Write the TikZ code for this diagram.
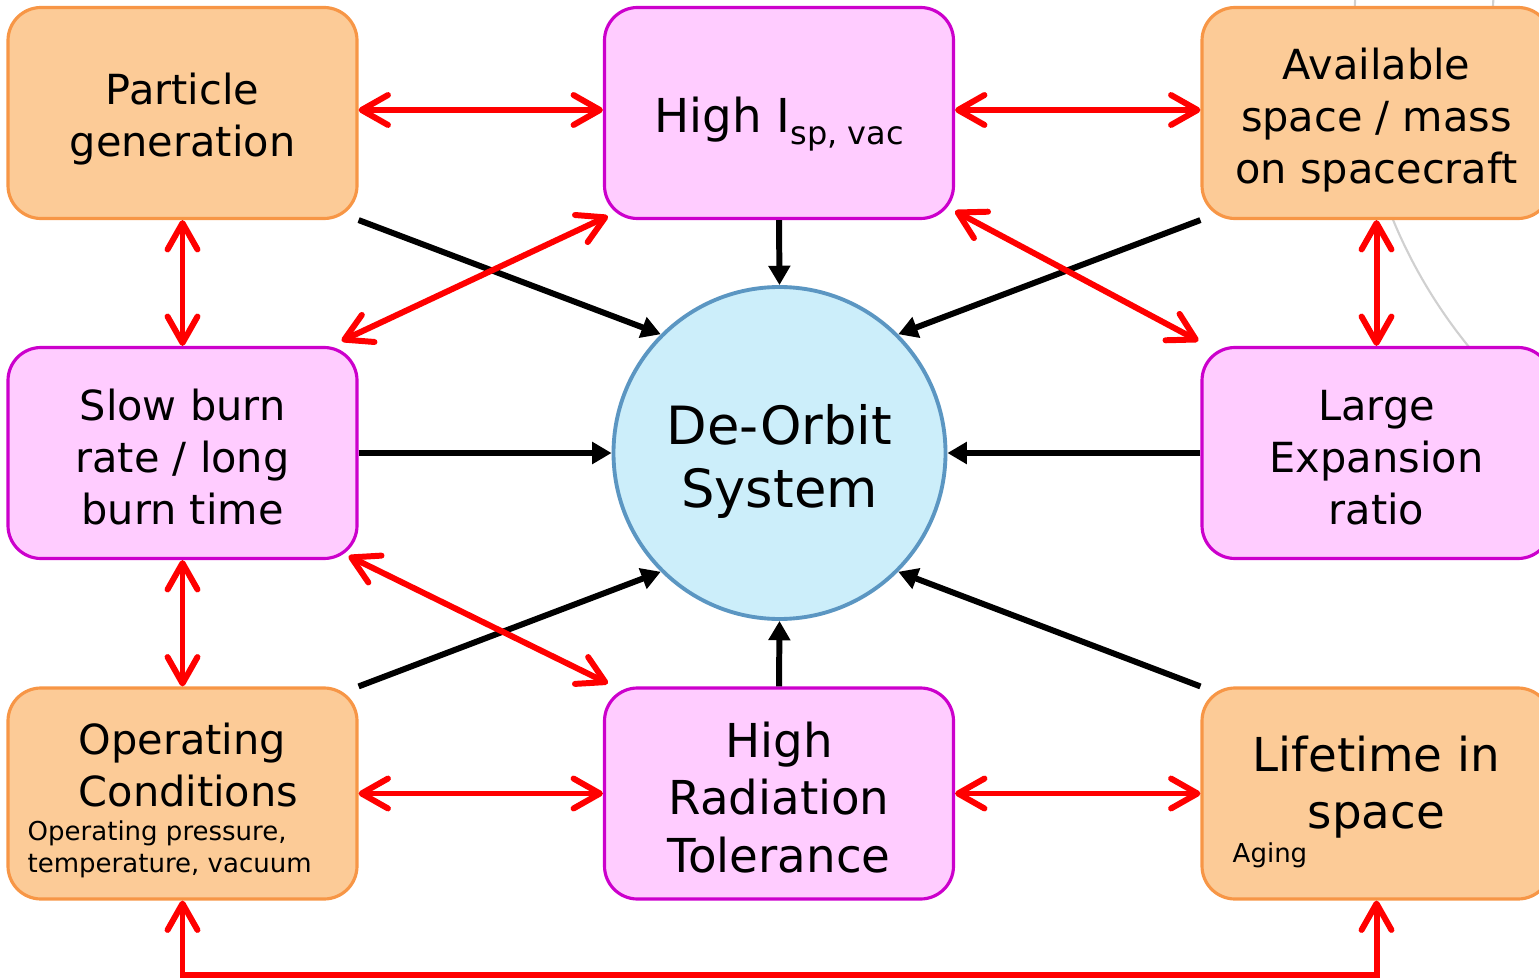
\documentclass[tikz,border=0pt]{standalone}
\usepackage{fontspec}
\setmainfont{DejaVu Sans}
\usetikzlibrary{arrows.meta}

\definecolor{boxorange}{HTML}{FCCB97}
\definecolor{lineorange}{HTML}{F79646}
\definecolor{boxpink}{HTML}{FFCCFF}
\definecolor{linepink}{HTML}{CC00CC}
\definecolor{discblue}{HTML}{CCEEFA}
\definecolor{discline}{HTML}{5B96C2}
\definecolor{arcgrey}{HTML}{D0D0D0}

\newcommand{\droptext}[1]{\rule{0pt}{#1}} % taller first line pushes the text down

\begin{document}
\begin{tikzpicture}[
    orangebox/.style={draw=lineorange, fill=boxorange, line width=0.9pt, rounded corners=0.33cm,
      minimum width=3.49cm, minimum height=2.11cm, inner sep=0pt, align=center},
    pinkbox/.style={orangebox, draw=linepink, fill=boxpink},
    mainfont/.style={font=\fontsize{11.8}{14.8}\selectfont},
    bigfont/.style={font=\fontsize{13.3}{16.4}\selectfont},
    notefont/.style={font=\fontsize{7.4}{9.1}\selectfont},
    redarrow/.style={red, line width=1.7pt, >={Straight Barb[round,length=7.5pt,width=8.5pt]}, <->},
    blackarrow/.style={black, line width=1.7pt, -{Triangle[length=5.5pt,width=6pt]}}
  ]
          \useasboundingbox (0,0) rectangle (15.39,9.78);

          \draw [arcgrey, line width=0.6pt] (18.645,9.53) circle (5.10); % background arc
          \draw [arcgrey, line width=0.6pt] (18.645,9.53) circle (3.72); % background arc

          \node [orangebox, mainfont] (pg) at (1.825,8.65) {\droptext{1.05em}Particle\\generation};
          \node [pinkbox, bigfont] (isp) at (7.79,8.65) {\droptext{1.05em}High I\raisebox{-3.5pt}[0pt][0pt]{\fontsize{9.1}{9.1}\selectfont sp, vac}};
          \node [orangebox, mainfont] (space) at (13.765,8.65) {\droptext{1.1em}Available\\space / mass\\on spacecraft};

          \node [pinkbox, mainfont] (burn) at (1.825,5.25) {\droptext{0.95em}Slow burn\\rate / long\\burn time};
          \node [circle, draw=discline, fill=discblue, line width=1.1pt, minimum size=3.32cm, inner sep=0pt,
            align=center, font=\fontsize{15}{18.2}\selectfont] (deorbit) at (7.795,5.25) {\droptext{1.08em}De-Orbit\\System};
          \node [pinkbox, mainfont] (expansion) at (13.765,5.25) {\droptext{0.95em}Large\\Expansion\\ratio};

          \node [orangebox] (operating) at (1.825,1.845) {};
          \node [pinkbox, bigfont] (radiation) at (7.79,1.845) {\droptext{0.92em}High\\Radiation\\Tolerance};
          \node [orangebox] (lifetime) at (13.765,1.845) {};

          % texts inside the two lower boxes
          \node [mainfont, align=left, anchor=west, inner sep=0pt] (operatingtitle) at (0.78,2.13) {Operating\\Conditions};
          \node [notefont, align=left, anchor=west, inner sep=0pt] (operatingnote) at (0.27,1.285) {Operating pressure,\\temperature, vacuum};
          \node [bigfont, align=center, inner sep=0pt] (lifetimetitle) at (13.765,1.91) {Lifetime in\\space};
          \node [notefont, anchor=west, inner sep=0pt] (lifetimenote) at (12.32,1.225) {Aging};

          % black arrows into the system
          \draw [blackarrow] (isp.south) -- (deorbit.north);
          \draw [blackarrow] (pg.south east) -- (deorbit.135);
          \draw [blackarrow] (space.south west) -- (deorbit.45);
          \draw [blackarrow] (burn.east) -- (deorbit.west);
          \draw [blackarrow] (expansion.west) -- (deorbit.east);
          \draw [blackarrow] (operating.north east) -- (deorbit.225);
          \draw [blackarrow] (lifetime.north west) -- (deorbit.315);
          \draw [blackarrow] (radiation.north) -- (deorbit.south);

          % red links between requirements
          \draw [redarrow] ([yshift=0.03cm]pg.east) -- ([yshift=0.03cm]isp.west);
          \draw [redarrow] ([yshift=0.03cm]isp.east) -- ([yshift=0.03cm]space.west);
          \draw [redarrow] (pg.south) -- (burn.north);
          \draw [redarrow] (space.south) -- (expansion.north);
          \draw [redarrow] (burn.south) -- (operating.north);
          \draw [redarrow] (operating.east) -- (radiation.west);
          \draw [redarrow] (radiation.east) -- (lifetime.west);
          \draw [redarrow] ([shift={(-0.17,0.05)}]burn.north east) -- ([shift={(0.05,0.04)}]isp.south west);
          \draw [redarrow] ([shift={(0,0.09)}]isp.south east) -- ([shift={(-0.02,0.05)}]expansion.north west);
          \draw [redarrow] ([shift={(-0.10,0.04)}]burn.south east) -- ([shift={(0.05,0.03)}]radiation.north west);
          \draw [redarrow] (operating.south) -- ++(0,-0.74) -| (lifetime.south);
\end{tikzpicture}
\end{document}
